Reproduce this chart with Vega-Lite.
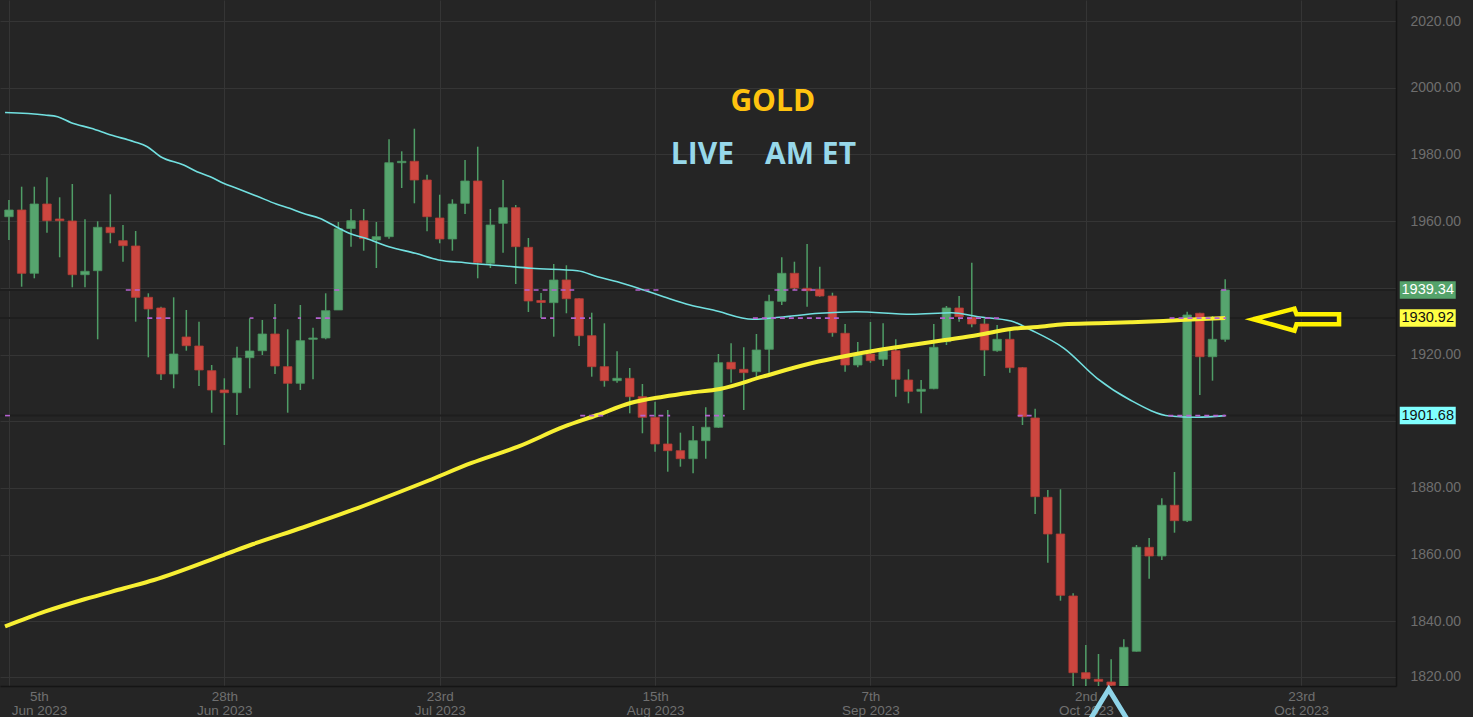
{
"$schema":"https://vega.github.io/schema/vega-lite/v6.json",
"width":1396,"height":686,
"autosize":{"type":"none"},
"padding":{"left":0,"top":0,"right":77,"bottom":31},
"background":"#252525",
"config":{"view":{"stroke":null,"fill":"#252525"},"axis":{"tickSize":0,"ticks":false}},
"datasets":{
"candles":[
{"i":0,"o":1961.32,"h":1966.33,"l":1954.34,"c":1963.33},
{"i":1,"o":1963.33,"h":1970.32,"l":1940.33,"c":1944.35},
{"i":2,"o":1944.35,"h":1970.32,"l":1942.85,"c":1965.13},
{"i":3,"o":1965.13,"h":1973.14,"l":1956.52,"c":1960.12},
{"i":4,"o":1960.63,"h":1967.14,"l":1949.15,"c":1960.12},
{"i":5,"o":1960.03,"h":1971.13,"l":1940.15,"c":1943.93},
{"i":6,"o":1943.93,"h":1960.54,"l":1940.15,"c":1944.95},
{"i":7,"o":1945.13,"h":1959.94,"l":1924.56,"c":1958.14},
{"i":8,"o":1958.14,"h":1968.04,"l":1953.35,"c":1956.52},
{"i":9,"o":1954.13,"h":1958.83,"l":1947.83,"c":1952.63},
{"i":10,"o":1952.54,"h":1957.03,"l":1929.84,"c":1937.15},
{"i":11,"o":1937.15,"h":1938.35,"l":1919.16,"c":1933.65},
{"i":12,"o":1933.95,"h":1934.34,"l":1912.36,"c":1914.16},
{"i":13,"o":1914.16,"h":1937.15,"l":1909.87,"c":1920.15},
{"i":14,"o":1925.25,"h":1933.35,"l":1921.14,"c":1922.64},
{"i":15,"o":1922.55,"h":1929.84,"l":1910.56,"c":1915.36},
{"i":16,"o":1915.15,"h":1916.85,"l":1902.55,"c":1909.36},
{"i":17,"o":1909.36,"h":1912.87,"l":1892.87,"c":1908.55},
{"i":18,"o":1908.55,"h":1922.34,"l":1901.86,"c":1918.95},
{"i":19,"o":1919.04,"h":1930.86,"l":1909.87,"c":1921.05},
{"i":20,"o":1921.14,"h":1930.35,"l":1919.85,"c":1926.15},
{"i":21,"o":1926.15,"h":1935.15,"l":1914.16,"c":1916.55},
{"i":22,"o":1916.35,"h":1927.56,"l":1902.55,"c":1911.37},
{"i":23,"o":1911.37,"h":1934.85,"l":1909.36,"c":1924.14},
{"i":24,"o":1924.56,"h":1928.04,"l":1912.57,"c":1924.95},
{"i":25,"o":1924.95,"h":1938.35,"l":1924.56,"c":1933.14},
{"i":26,"o":1933.35,"h":1959.73,"l":1933.35,"c":1957.69},
{"i":27,"o":1957.78,"h":1963.63,"l":1952.33,"c":1960.12},
{"i":28,"o":1960.12,"h":1963.63,"l":1951.13,"c":1954.73},
{"i":29,"o":1954.34,"h":1959.73,"l":1945.94,"c":1955.33},
{"i":30,"o":1955.33,"h":1984.53,"l":1954.73,"c":1977.51},
{"i":31,"o":1977.51,"h":1980.93,"l":1969.93,"c":1977.93},
{"i":32,"o":1977.93,"h":1987.71,"l":1965.34,"c":1972.33},
{"i":33,"o":1972.33,"h":1973.92,"l":1956.94,"c":1961.32},
{"i":34,"o":1960.93,"h":1967.92,"l":1953.35,"c":1954.64},
{"i":35,"o":1954.64,"h":1966.54,"l":1951.13,"c":1965.13},
{"i":36,"o":1965.34,"h":1978.32,"l":1962.13,"c":1972.03},
{"i":37,"o":1972.03,"h":1982.31,"l":1942.85,"c":1947.53},
{"i":38,"o":1947.35,"h":1963.63,"l":1945.94,"c":1958.83},
{"i":39,"o":1959.34,"h":1972.33,"l":1950.53,"c":1964.02},
{"i":40,"o":1964.02,"h":1964.83,"l":1941.14,"c":1952.33},
{"i":41,"o":1952.15,"h":1954.94,"l":1932.75,"c":1936.05},
{"i":42,"o":1936.2,"h":1938.44,"l":1930.95,"c":1935.6},
{"i":43,"o":1935.54,"h":1947.14,"l":1925.34,"c":1942.34},
{"i":44,"o":1942.34,"h":1946.75,"l":1932.36,"c":1936.73},
{"i":45,"o":1936.73,"h":1936.9,"l":1922.55,"c":1925.64},
{"i":46,"o":1925.64,"h":1932.54,"l":1913.35,"c":1916.35},
{"i":47,"o":1916.35,"h":1929.36,"l":1910.35,"c":1912.15},
{"i":48,"o":1912.15,"h":1920.96,"l":1911.55,"c":1912.87},
{"i":49,"o":1912.87,"h":1915.96,"l":1902.37,"c":1907.35},
{"i":50,"o":1907.35,"h":1911.16,"l":1896.38,"c":1901.17},
{"i":51,"o":1901.17,"h":1905.85,"l":1890.86,"c":1893.17},
{"i":52,"o":1893.17,"h":1903.36,"l":1884.86,"c":1891.16},
{"i":53,"o":1891.16,"h":1896.56,"l":1886.36,"c":1888.76},
{"i":54,"o":1888.76,"h":1898.56,"l":1884.38,"c":1894.16},
{"i":55,"o":1894.16,"h":1904.17,"l":1888.76,"c":1898.18},
{"i":56,"o":1898.18,"h":1920.15,"l":1898.0,"c":1917.54},
{"i":57,"o":1917.66,"h":1923.36,"l":1911.55,"c":1915.66},
{"i":58,"o":1915.56,"h":1922.16,"l":1903.36,"c":1914.55},
{"i":59,"o":1914.85,"h":1926.15,"l":1912.87,"c":1921.35},
{"i":60,"o":1921.56,"h":1937.93,"l":1914.16,"c":1935.95},
{"i":61,"o":1935.95,"h":1949.15,"l":1934.85,"c":1944.35},
{"i":62,"o":1944.35,"h":1947.83,"l":1939.34,"c":1939.94},
{"i":63,"o":1939.85,"h":1953.14,"l":1934.34,"c":1939.13},
{"i":64,"o":1939.55,"h":1946.33,"l":1937.3,"c":1937.54},
{"i":65,"o":1937.54,"h":1938.53,"l":1925.34,"c":1926.54},
{"i":66,"o":1926.36,"h":1929.15,"l":1914.85,"c":1916.85},
{"i":67,"o":1916.85,"h":1923.75,"l":1916.17,"c":1920.06},
{"i":68,"o":1920.15,"h":1929.75,"l":1917.54,"c":1918.15},
{"i":69,"o":1918.56,"h":1929.36,"l":1916.55,"c":1921.56},
{"i":70,"o":1921.14,"h":1924.56,"l":1907.35,"c":1912.57},
{"i":71,"o":1912.36,"h":1915.56,"l":1905.37,"c":1908.97},
{"i":72,"o":1908.97,"h":1912.36,"l":1902.37,"c":1909.57},
{"i":73,"o":1909.75,"h":1929.15,"l":1909.6,"c":1922.16},
{"i":74,"o":1923.84,"h":1934.55,"l":1922.85,"c":1933.95},
{"i":75,"o":1933.95,"h":1937.54,"l":1929.84,"c":1931.34},
{"i":76,"o":1931.16,"h":1947.53,"l":1928.16,"c":1929.15},
{"i":77,"o":1929.15,"h":1930.86,"l":1913.56,"c":1921.35},
{"i":78,"o":1921.14,"h":1928.85,"l":1920.84,"c":1924.56},
{"i":79,"o":1924.56,"h":1927.35,"l":1914.55,"c":1916.05},
{"i":80,"o":1916.05,"h":1916.2,"l":1898.86,"c":1901.35},
{"i":81,"o":1900.96,"h":1903.75,"l":1872.18,"c":1877.37},
{"i":82,"o":1877.19,"h":1879.37,"l":1857.58,"c":1866.18},
{"i":83,"o":1866.18,"h":1879.59,"l":1846.18,"c":1847.8},
{"i":84,"o":1847.59,"h":1848.4,"l":1816.0,"c":1824.59},
{"i":85,"o":1824.59,"h":1832.9,"l":1815.0,"c":1822.79},
{"i":86,"o":1822.61,"h":1830.2,"l":1815.0,"c":1822.01},
{"i":87,"o":1821.8,"h":1828.61,"l":1813.0,"c":1820.81},
{"i":88,"o":1820.3,"h":1834.6,"l":1816.0,"c":1832.21},
{"i":89,"o":1831.01,"h":1862.88,"l":1830.9,"c":1862.19},
{"i":90,"o":1862.19,"h":1864.98,"l":1852.78,"c":1859.58},
{"i":91,"o":1859.58,"h":1876.88,"l":1858.38,"c":1874.79},
{"i":92,"o":1874.79,"h":1884.77,"l":1866.57,"c":1870.17},
{"i":93,"o":1870.17,"h":1932.84,"l":1869.78,"c":1931.85},
{"i":94,"o":1932.36,"h":1932.5,"l":1907.86,"c":1919.34},
{"i":95,"o":1919.34,"h":1931.55,"l":1912.15,"c":1924.56},
{"i":96,"o":1924.56,"h":1942.55,"l":1923.84,"c":1939.34}
],
"ma200":[
{"i":-0.31,"v":1838.44},{"i":2.82,"v":1842.88},{"i":5.96,"v":1846.6},{"i":9.09,"v":1849.9},{"i":11.44,"v":1852.39},{"i":16.93,"v":1859.88},{"i":19.28,"v":1863.18},{"i":23.2,"v":1868.13},{"i":27.12,"v":1873.38},{"i":31.03,"v":1879.07},{"i":33.13,"v":1882.22},{"i":36.52,"v":1887.47},{"i":40.18,"v":1892.36},{"i":43.81,"v":1898.35},{"i":46.45,"v":1901.86},{"i":49.06,"v":1905.46},{"i":51.65,"v":1907.35},{"i":53.76,"v":1908.55},{"i":56.11,"v":1909.66},{"i":59.48,"v":1913.35},{"i":63.4,"v":1917.45},{"i":66.04,"v":1919.55},{"i":68.65,"v":1921.35},{"i":71.24,"v":1922.85},{"i":73.88,"v":1924.35},{"i":76.49,"v":1925.85},{"i":79.08,"v":1927.65},{"i":81.19,"v":1928.25},{"i":83.28,"v":1929.06},{"i":85.89,"v":1929.36},{"i":88.48,"v":1929.66},{"i":91.12,"v":1930.05},{"i":93.73,"v":1930.56},{"i":96,"v":1930.92}
],
"ma50":[
{"i":-0.31,"v":1992.57},{"i":2.82,"v":1991.82},{"i":3.84,"v":1991.31},{"i":4.91,"v":1989.51},{"i":6.48,"v":1987.83},{"i":8.05,"v":1985.82},{"i":9.87,"v":1983.81},{"i":10.92,"v":1982.31},{"i":11.97,"v":1979.31},{"i":13.79,"v":1976.82},{"i":14.84,"v":1974.82},{"i":15.89,"v":1973.32},{"i":16.93,"v":1971.34},{"i":17.97,"v":1969.84},{"i":19.54,"v":1967.53},{"i":21.1,"v":1965.13},{"i":22.15,"v":1963.84},{"i":23.2,"v":1962.34},{"i":24.51,"v":1960.84},{"i":25.81,"v":1958.32},{"i":26.86,"v":1956.35},{"i":28.16,"v":1954.85},{"i":29.99,"v":1952.33},{"i":32.08,"v":1950.35},{"i":33.91,"v":1948.34},{"i":36.0,"v":1947.53},{"i":39.13,"v":1946.54},{"i":41.22,"v":1945.85},{"i":44.88,"v":1945.13},{"i":46.45,"v":1943.33},{"i":48.02,"v":1941.83},{"i":50.1,"v":1939.34},{"i":51.67,"v":1937.34},{"i":53.76,"v":1934.85},{"i":55.59,"v":1933.35},{"i":58.72,"v":1930.56},{"i":60.82,"v":1931.16},{"i":63.95,"v":1932.36},{"i":66.83,"v":1932.84},{"i":71.26,"v":1932.06},{"i":74.4,"v":1932.54},{"i":76.49,"v":1931.34},{"i":79.1,"v":1930.05},{"i":80.67,"v":1927.35},{"i":83.28,"v":1921.86},{"i":85.89,"v":1912.87},{"i":88.5,"v":1906.36},{"i":91.64,"v":1901.56},{"i":93.73,"v":1901.17},{"i":96,"v":1901.68}
],
"levels":[
{"lv":1939.34,"lab":"1939.34","k":"last"},
{"lv":1930.92,"lab":"1930.92","k":"ma200"},
{"lv":1901.68,"lab":"1901.68","k":"ma50"}
],
"dashes":[
{"a":9.22,"b":10.52,"lv":1939.34},{"a":25.68,"b":26.07,"lv":1939.34},{"a":40.7,"b":44.62,"lv":1939.34},{"a":49.45,"b":51.54,"lv":1939.34},{"a":60.42,"b":63.95,"lv":1939.34},{"a":95.69,"b":96.32,"lv":1939.34},
{"a":10.92,"b":13.01,"lv":1930.92},{"a":19.0,"b":19.3,"lv":1930.92},{"a":20.85,"b":21.1,"lv":1930.92},{"a":22.8,"b":23.05,"lv":1930.92},{"a":24.22,"b":25.39,"lv":1930.92},{"a":42.0,"b":43.03,"lv":1930.92},{"a":44.36,"b":45.92,"lv":1930.92},{"a":58.72,"b":65.65,"lv":1930.92},{"a":73.49,"b":78.45,"lv":1930.92},{"a":91.61,"b":96.08,"lv":1930.92},
{"a":-0.31,"b":0.08,"lv":1901.68},{"a":45.09,"b":47.23,"lv":1901.68},{"a":49.84,"b":52.19,"lv":1901.68},{"a":54.94,"b":56.5,"lv":1901.68},{"a":79.62,"b":81.03,"lv":1901.68},{"a":91.51,"b":96.08,"lv":1901.68}
],
"arrow":[
{"k":0,"i":98.22,"v":1930.56},{"k":1,"i":101.47,"v":1933.74},{"k":2,"i":101.63,"v":1932.06},{"k":3,"i":104.99,"v":1932.06},{"k":4,"i":104.99,"v":1929.06},{"k":5,"i":101.63,"v":1929.06},{"k":6,"i":101.47,"v":1927.14},{"k":7,"i":98.22,"v":1930.56},{"k":8,"i":101.47,"v":1933.74}
],
"chevron":[
{"i":84.84,"v":1807.41},{"i":86.81,"v":1819.61},{"i":88.78,"v":1807.41}
]
},
"layer":[
{"data":{"name":"levels"},
 "mark":{"type":"rule","color":"#1e1e1e","strokeWidth":2,"clip":true},
 "encoding":{"y":{"field":"lv","type":"quantitative","scale":{"domain":[1820.6,2026.3],"nice":false,"zero":false},"title":null}}},
{"data":{"name":"candles"},
 "mark":{"type":"rule","strokeWidth":1.5,"color":"#4f9d66","clip":true},
 "encoding":{
  "x":{"field":"i","type":"quantitative","title":null,"scale":{"domain":[-0.3135,109.09],"nice":false,"zero":false},
   "axis":{"values":[0,17,34,51,68,85,102],"grid":true,"gridColor":"#353535","gridWidth":1,"domain":true,"domainColor":"#151515","domainWidth":1.5,"ticks":false,"tickSize":0,
    "labelExpr":"[['5th','Jun 2023'],['28th','Jun 2023'],['23rd','Jul 2023'],['15th','Aug 2023'],['7th','Sep 2023'],['2nd','Oct 2023'],['23rd','Oct 2023']][round(datum.value/17)]",
    "labelColor":"#707070","labelFont":"Liberation Sans","labelFontSize":13.5,"labelAlign":"center","labelBaseline":"top","labelPadding":3,"labelLineHeight":14,
    "labelOffset":{"condition":{"test":"datum.value == 0","value":30},"value":0},
    "labelOverlap":false,"labelBound":false,"labelFlush":false,"title":null,"zindex":0}},
  "y":{"field":"l","type":"quantitative","title":null,"scale":{"domain":[1820.6,2026.3],"nice":false,"zero":false},
   "axis":{"orient":"right","values":[1823.3,1840,1860,1880,1900,1920,1940,1960,1980,2000,2020],
    "labelExpr":"datum.value < 1830 ? '1820.00' : (datum.value == 1900 || datum.value == 1940) ? '' : format(datum.value, '.2f')",
    "grid":true,"gridColor":"#353535","gridWidth":1,"domain":true,"domainColor":"#151515","domainWidth":1.5,"ticks":false,"tickSize":0,
    "labelColor":"#6e6e6e","labelFont":"Liberation Sans","labelFontSize":14,"labelAlign":"left","labelBaseline":"middle","labelPadding":14,
    "labelOverlap":false,"labelBound":false,"labelFlush":false,"title":null,"zindex":0}},
  "y2":{"field":"h"}}},
{"data":{"name":"candles"},
 "mark":{"type":"bar","size":8.5,"strokeWidth":0.8,"clip":true},
 "encoding":{
  "x":{"field":"i","type":"quantitative","title":null,"scale":{"domain":[-0.3135,109.09],"nice":false,"zero":false}},
  "y":{"field":"o","type":"quantitative","title":null,"scale":{"domain":[1820.6,2026.3],"nice":false,"zero":false}},
  "y2":{"field":"c"},
  "color":{"condition":{"test":"datum.o > datum.c","value":"#cc463f"},"value":"#56a56e"},
  "stroke":{"condition":{"test":"datum.o > datum.c","value":"#b23c36"},"value":"#4a9360"}}},
{"data":{"name":"ma50"},
 "mark":{"type":"line","color":"#72e0e0","strokeWidth":1.6,"interpolate":"monotone","clip":true},
 "encoding":{
  "x":{"field":"i","type":"quantitative","title":null,"scale":{"domain":[-0.3135,109.09],"nice":false,"zero":false}},
  "y":{"field":"v","type":"quantitative","title":null,"scale":{"domain":[1820.6,2026.3],"nice":false,"zero":false}}}},
{"data":{"name":"ma200"},
 "mark":{"type":"line","color":"#f7ef33","strokeWidth":4,"interpolate":"monotone","clip":true},
 "encoding":{
  "x":{"field":"i","type":"quantitative","title":null,"scale":{"domain":[-0.3135,109.09],"nice":false,"zero":false}},
  "y":{"field":"v","type":"quantitative","title":null,"scale":{"domain":[1820.6,2026.3],"nice":false,"zero":false}}}},
{"data":{"name":"dashes"},
 "mark":{"type":"rule","color":"#b562cf","strokeWidth":1.6,"strokeDash":[5,4],"clip":true},
 "encoding":{
  "x":{"field":"a","type":"quantitative","title":null,"scale":{"domain":[-0.3135,109.09],"nice":false,"zero":false}},
  "x2":{"field":"b"},
  "y":{"field":"lv","type":"quantitative","title":null,"scale":{"domain":[1820.6,2026.3],"nice":false,"zero":false}}}},
{"data":{"values":[{}]},
 "mark":{"type":"text","text":"GOLD","font":"Open Sans","fontSize":30,"fontWeight":"bold","color":"#ffc30f","align":"center","baseline":"alphabetic"},
 "encoding":{"x":{"datum":60.29,"type":"quantitative"},"y":{"datum":1993.11,"type":"quantitative"}}},
{"data":{"values":[{}]},
 "mark":{"type":"text","text":"LIVE","font":"Open Sans","fontSize":30,"fontWeight":"bold","color":"#97d8ea","align":"center","baseline":"alphabetic"},
 "encoding":{"x":{"datum":54.74,"type":"quantitative"},"y":{"datum":1977.03,"type":"quantitative"}}},
{"data":{"values":[{}]},
 "mark":{"type":"text","text":"AM ET","font":"Open Sans","fontSize":30,"fontWeight":"bold","color":"#97d8ea","align":"center","baseline":"alphabetic"},
 "encoding":{"x":{"datum":63.27,"type":"quantitative"},"y":{"datum":1977.03,"type":"quantitative"}}},
{"data":{"name":"arrow"},
 "mark":{"type":"line","color":"#fff200","strokeWidth":4.5,"strokeJoin":"miter","strokeMiterLimit":10,"clip":false},
 "encoding":{
  "x":{"field":"i","type":"quantitative","title":null},
  "y":{"field":"v","type":"quantitative","title":null},
  "order":{"field":"k","type":"quantitative"}}},
{"data":{"name":"chevron"},
 "mark":{"type":"line","color":"#8fd4e8","strokeWidth":5,"strokeJoin":"miter","strokeMiterLimit":10,"clip":false},
 "encoding":{
  "x":{"field":"i","type":"quantitative","title":null},
  "y":{"field":"v","type":"quantitative","title":null}}},
{"data":{"name":"levels"},
 "mark":{"type":"tick","orient":"horizontal","size":56,"thickness":17.5,"opacity":1,"clip":false},
 "encoding":{
  "x":{"datum":111.99,"type":"quantitative"},
  "y":{"field":"lv","type":"quantitative","title":null},
  "color":{"field":"k","type":"nominal","legend":null,"scale":{"domain":["last","ma200","ma50"],"range":["#55a36b","#ffff44","#80ffff"]}}}},
{"data":{"name":"levels"},
 "mark":{"type":"text","font":"Liberation Sans","fontSize":14.5,"align":"center","baseline":"middle","clip":false},
 "encoding":{
  "x":{"datum":111.99,"type":"quantitative"},
  "y":{"field":"lv","type":"quantitative","title":null},
  "text":{"field":"lab"},
  "color":{"condition":{"test":"datum.k == 'last'","value":"#ffffff"},"value":"#111111"}}}
]
}
